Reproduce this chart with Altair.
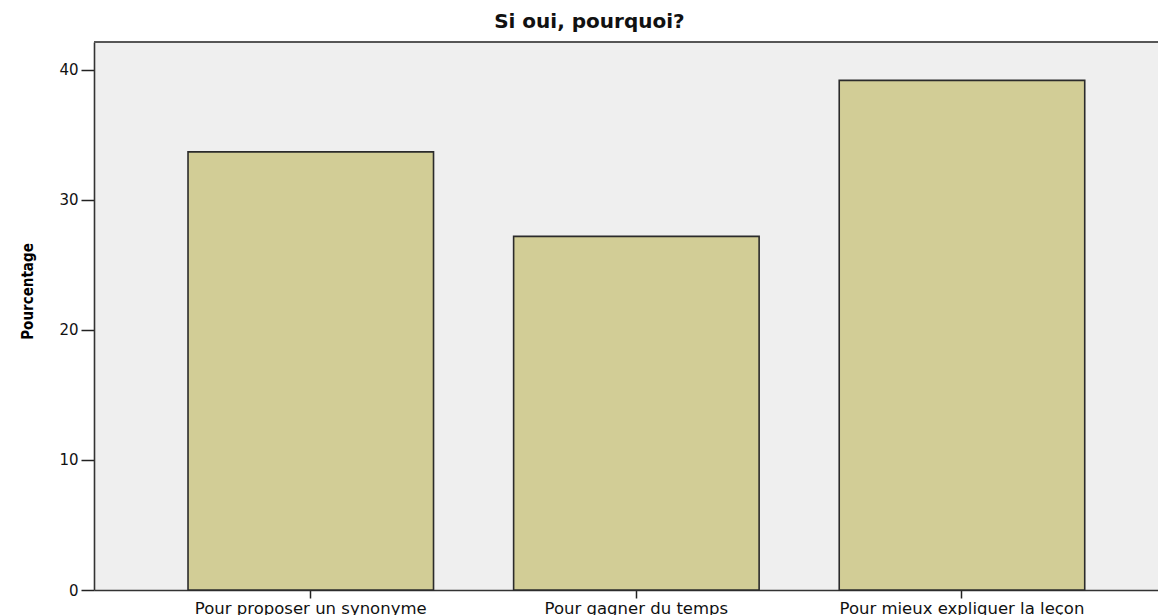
import altair as alt
import pandas as pd

categories = ["Pour proposer un synonyme", "Pour gagner du temps", "Pour mieux expliquer la leçon"]
values = [33.7, 27.2, 39.2]
y_ticks = [0, 10, 20, 30, 40]

df = pd.DataFrame({"cat": categories, "pct": values})

W = 1064
H = 548

base = alt.Chart(df)

bars = base.mark_bar(
    fill="#D2CD96", stroke="#2b2b2b", strokeWidth=1.6
).encode(
    x=alt.X(
        "cat:N",
        sort=categories,
        title=None,
        scale=alt.Scale(paddingInner=0.246, paddingOuter=0.2569, align=0.562),
        axis=alt.Axis(
            labelAngle=0,
            labelFont="DejaVu Sans",
            labelFontSize=16.5,
            labelColor="#111",
            labelPadding=2,
            tickSize=8,
            tickColor="#222",
            tickWidth=1.5,
            domainColor="#333",
            domainWidth=1.6,
            labelLimit=400,
        ),
    ),
    y=alt.Y(
        "pct:Q",
        title="Pourcentage",
        scale=alt.Scale(domain=[0, 42.15], nice=False, zero=True),
        axis=alt.Axis(
            values=y_ticks,
            grid=False,
            labelFont="DejaVu Sans",
            labelFontSize=15,
            labelColor="#111",
            labelPadding=3,
            tickSize=13,
            tickColor="#222",
            tickWidth=1.5,
            domainColor="#333",
            domainWidth=1.6,
            titleFont="DejaVu Sans Condensed",
            titleFontWeight="bold",
            titleFontSize=15,
            titleColor="#000",
            titleX=-59,
            titleY=249,
        ),
    ),
)

top_border = base.mark_rule(color="#555", strokeWidth=1.6).encode(
    x=alt.value(0), x2=alt.value(W), y=alt.value(0)
)

chart = alt.layer(bars, top_border).properties(
    width=W,
    height=H,
    padding={"left": 86, "top": 34, "right": 0, "bottom": 25},
    autosize=alt.AutoSizeParams(type="none"),
    background="white",
    title=alt.TitleParams(
        "Si oui, pourquoi?",
        font="DejaVu Sans",
        fontSize=20,
        fontWeight="bold",
        color="#111",
        anchor="middle",
        frame="bounds",
        offset=9,
    ),
).configure_view(
    fill="#EFEFEF", stroke=None
)

chart.save("out.html", embed_options={"renderer": "svg", "actions": False})
